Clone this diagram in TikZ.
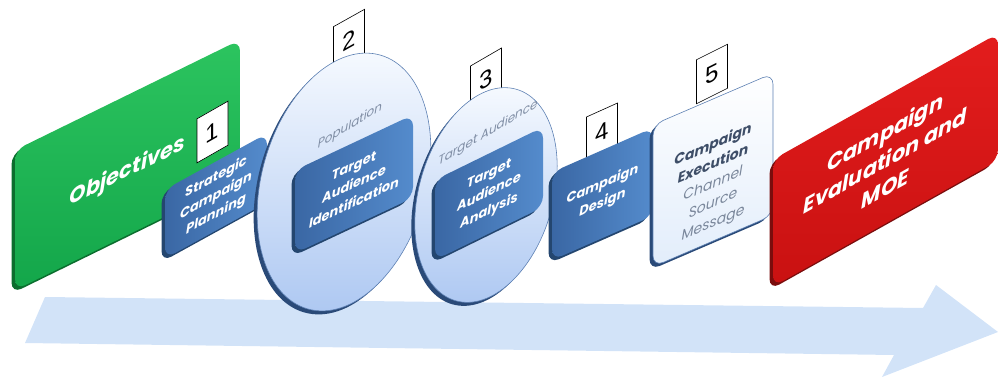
\documentclass[tikz,border=0pt]{standalone}
\usepackage{fontspec}
\setmainfont{Poppins}
\newfontfamily\tagfont{Liberation Sans}
\usetikzlibrary{shapes.geometric,shadows}

\definecolor{flowblue}{HTML}{D2E3F8}
\definecolor{objtop}{HTML}{2CC45F}
\definecolor{objbot}{HTML}{13A64A}
\definecolor{objrim}{HTML}{0B6E2E}
\definecolor{stepleft}{HTML}{3A67A4}
\definecolor{stepright}{HTML}{548BCC}
\definecolor{steprim}{HTML}{24466F}
\definecolor{disctop}{HTML}{F8FBFF}
\definecolor{discbot}{HTML}{AFC9F2}
\definecolor{discrim}{HTML}{2A4A78}
\definecolor{discline}{HTML}{5D80B3}
\definecolor{disctxt}{HTML}{7E8CA3}
\definecolor{exectop}{HTML}{FFFFFF}
\definecolor{execbot}{HTML}{E2EDFB}
\definecolor{execdark}{HTML}{3E4E68}
\definecolor{execgray}{HTML}{7A879B}
\definecolor{evaltop}{HTML}{E31D1D}
\definecolor{evalbot}{HTML}{C91111}
\definecolor{evalrim}{HTML}{7A0D0D}

\tikzset{
  stage/.style={rectangle, rounded corners=11pt, align=center, inner sep=1pt, text=white},
  bigtext/.style={font=\fontsize{21}{28}\selectfont\bfseries\itshape},
  smalltext/.style={font=\fontsize{13}{18.5}\selectfont\bfseries\itshape},
  greenbox/.style={stage, bigtext, top color=objtop, bottom color=objbot,
    copy shadow={shadow xshift=-3.5pt, shadow yshift=-3.5pt, fill=objrim, draw=none}},
  bluebox/.style={stage, smalltext, left color=stepleft, right color=stepright,
    copy shadow={shadow xshift=-3.5pt, shadow yshift=-3.5pt, fill=steprim, draw=none}},
  execbox/.style={stage, draw=discline, line width=0.6pt, top color=exectop, bottom color=execbot,
    text=execgray, font=\fontsize{14}{19.5}\selectfont\itshape,
    copy shadow={shadow xshift=-3.5pt, shadow yshift=-3.5pt, fill=discrim, draw=none}},
  redbox/.style={stage, bigtext, top color=evaltop, bottom color=evalbot,
    copy shadow={shadow xshift=-3.5pt, shadow yshift=-3.5pt, fill=evalrim, draw=none}},
  disc/.style={ellipse, draw=discline, line width=0.6pt, top color=disctop, bottom color=discbot,
    inner sep=0pt, copy shadow={shadow xshift=-3.5pt, shadow yshift=-3.5pt, fill=discrim, draw=none}},
  disctext/.style={text=disctxt, font=\fontsize{12}{14}\selectfont\itshape, inner sep=0pt},
  tag/.style={draw=black, line width=0.6pt, fill=white, minimum width=31, minimum height=44,
    inner sep=0pt, font=\tagfont\fontsize{24}{24}\selectfont},
}

\begin{document}
\begin{tikzpicture}[x=1pt, y=-1pt]
  \useasboundingbox (0,0) rectangle (998,377);
  \fill[flowblue] (45,297) -- (923,308) -- (936,285) -- (998,332) -- (882,377) -- (894,355) -- (25,343) -- cycle;
  \node[greenbox, minimum width=225, minimum height=140, yslant=0.49] (objectives) at (127.5,165) {\rule{0pt}{30pt}Objectives};
  \node[tag, yslant=0.57] (tag1) at (212.5,132) {1};
  \node[bluebox, minimum width=102, minimum height=69, yslant=0.55] (planning) at (216,196) {Strategic\\Campaign\\Planning};
  \node[tag, yslant=0.56] (tag2) at (349,40) {2};
  \node[disc, minimum width=164, minimum height=264, rotate=-16] (population) at (344,182) {};
  \node[disctext, yslant=0.6] (poplabel) at (350,126) {Population};
  \node[bluebox, minimum width=118, minimum height=83, yslant=0.47] (identification) at (354,184) {Target\\Audience\\Identification};
  \node[tag, yslant=0.58] (tag3) at (486,79) {3};
  \node[disc, minimum width=134, minimum height=220, rotate=-16] (audience) at (486,195) {};
  \node[disctext, yslant=0.59] (audlabel) at (488,133) {Target Audience};
  \node[bluebox, minimum width=108, minimum height=80, yslant=0.49] (analysis) at (489,193.5) {Target\\Audience\\Analysis};
  \node[tag, yslant=0.45] (tag4) at (602,132) {4};
  \node[bluebox, minimum width=101, minimum height=88, yslant=0.44] (design) at (602.5,194) {Campaign\\Design};
  \node[tag, yslant=0.5] (tag5) at (712,74) {5};
  \node[execbox, minimum width=120, minimum height=142, yslant=0.43] (execution) at (713,170)
    {\rule{0pt}{40pt}\textcolor{execdark}{\bfseries Campaign}\\\textcolor{execdark}{\bfseries Execution}\\Channel\\Source\\Message};
  \node[redbox, minimum width=225, minimum height=127, yslant=0.56] (evaluation) at (885.5,160) {Campaign\\Evaluation and\\MOE};
\end{tikzpicture}
\end{document}
